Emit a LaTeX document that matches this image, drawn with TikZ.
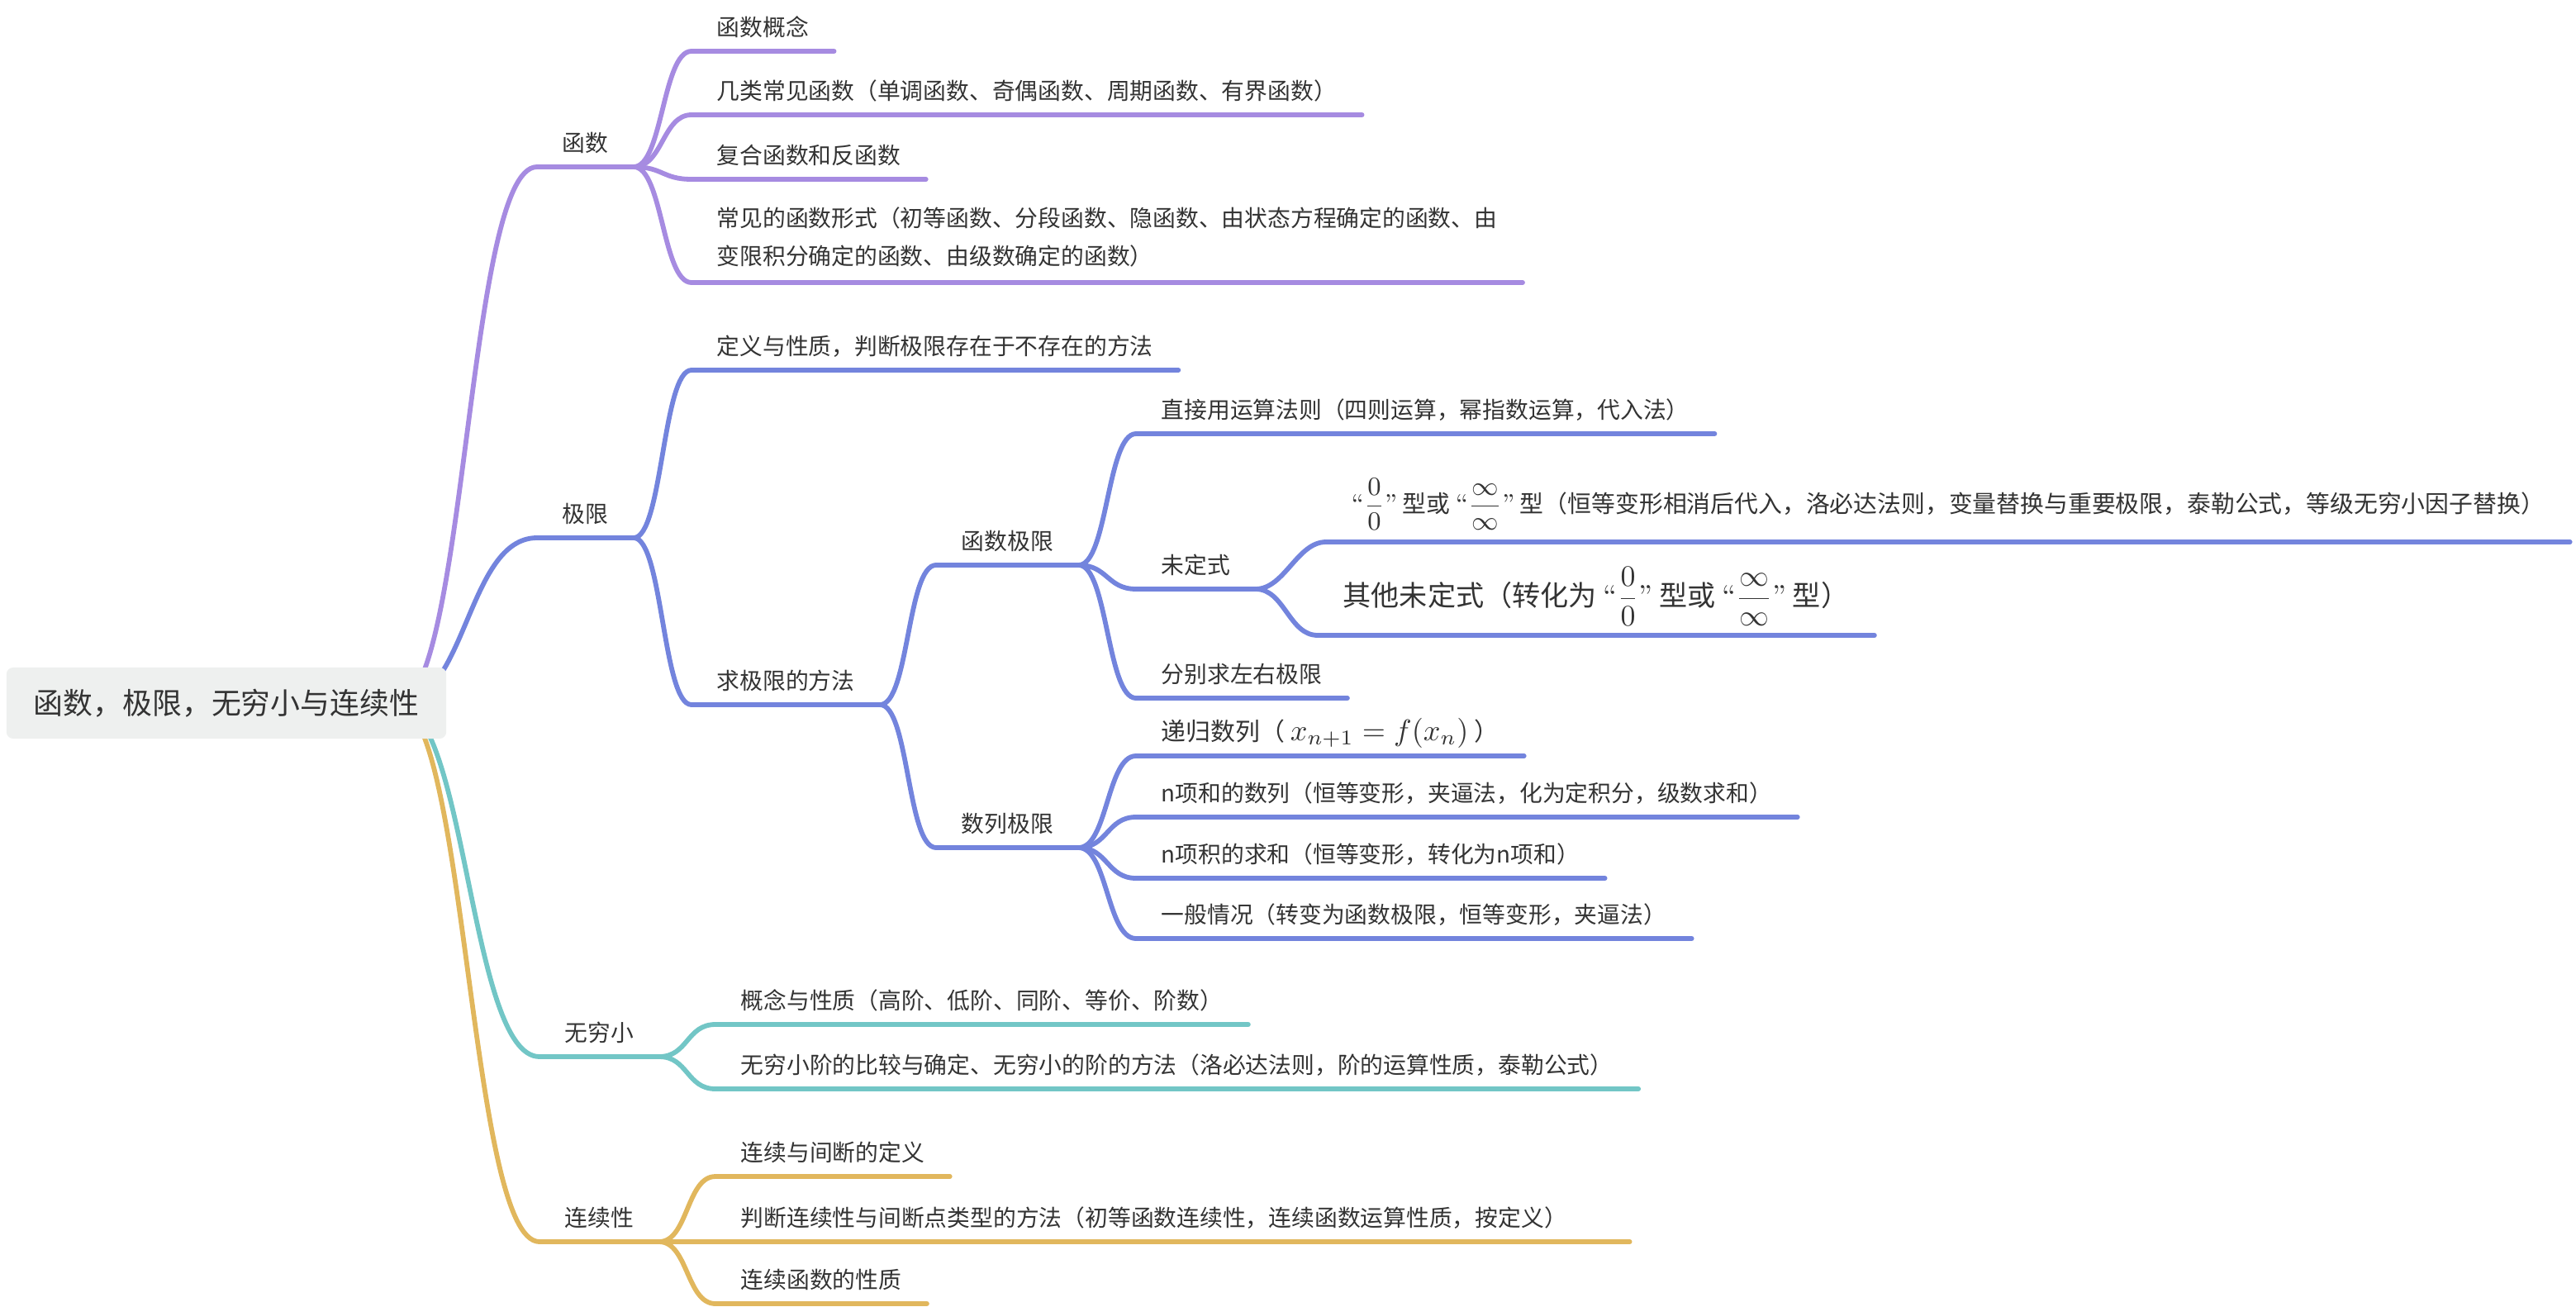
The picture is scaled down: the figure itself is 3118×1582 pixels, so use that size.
\RequirePackage{fix-cm}
\documentclass[tikz,border=0pt]{standalone}
\usepackage{fontspec}
\newfontfamily\cjk{Noto Sans CJK SC}

\definecolor{txt}{HTML}{333333}
\definecolor{rootbg}{HTML}{EEF0EF}
\definecolor{fnc}{HTML}{A68BE1}
\definecolor{limc}{HTML}{7384DD}
\definecolor{infc}{HTML}{72C6C6}
\definecolor{conc}{HTML}{E1B75D}

\begin{document}
\begin{tikzpicture}[x=0.01cm,y=-0.01cm,
    mmbox/.style={anchor=south west,inner xsep=0.3cm,inner ysep=0.18cm,
      text=txt,font=\cjk\fontsize{7.9}{13.1}\selectfont},
    topic/.style={mmbox,text depth=0pt},
    formula/.style={mmbox,text depth=0.17cm},
    bar/.style={line width=1.65pt,line cap=round}]
  \useasboundingbox (0,0) rectangle (3118,1582);
  \coordinate (hub) at (480,852);

  % main topics
  \node[topic] (fn) at (650,202) {函数};
  \node[topic] (lim) at (650,651) {极限};
  \node[topic] (inf) at (653,1279) {无穷小};
  \node[topic] (con) at (653,1503) {连续性};

  % functions
  \node[topic] (fn1) at (837,62) {函数概念};
  \node[topic] (fn2) at (837,139)
    {几类常见函数（单调函数、奇偶函数、周期函数、有界函数）};
  \node[topic] (fn3) at (837,217) {复合函数和反函数};
  \node[mmbox,align=left] (fn4) at (837,342)
    {常见的函数形式（初等函数、分段函数、隐函数、由状态方程确定的函数、由\\
     变限积分确定的函数、由级数确定的函数）};

  % limits
  \node[topic] (def) at (837,448) {定义与性质，判断极限存在于不存在的方法};
  \node[topic] (meth) at (837,853) {求极限的方法};
  \node[topic] (fl) at (1133,684) {函数极限};
  \node[topic] (sl) at (1133,1026) {数列极限};
  \node[topic] (fl1) at (1375,525) {直接用运算法则（四则运算，幂指数运算，代入法）};
  \node[topic] (wd) at (1375,713) {未定式};
  \node[topic] (fl3) at (1375,845) {分别求左右极限};
  \node[formula,font=\cjk\fontsize{8.2}{11}\selectfont] (wd1) at (1605,656)
    {{\rmfamily\fontsize{9}{11}\selectfont “$\displaystyle\frac{0}{0}$”} 型或
     {\rmfamily\fontsize{9}{11}\selectfont “$\displaystyle\frac{\infty}{\infty}$”}
     型（恒等变形相消后代入，洛必达法则，变量替换与重要极限，泰勒公式，等级无穷小因子替换）};
  \node[formula,font=\cjk\fontsize{9.7}{12}\selectfont] (wd2) at (1595,769)
    {其他未定式（转化为 {\rmfamily\fontsize{10.2}{12}\selectfont “$\displaystyle\frac{0}{0}$”} 型或
     {\rmfamily\fontsize{10.2}{12}\selectfont “$\displaystyle\frac{\infty}{\infty}$”} 型）};
  \node[topic,font=\cjk\fontsize{8.5}{11}\selectfont] (sl1) at (1375,915)
    {递归数列（ {\fontsize{10.3}{12}\selectfont$x_{n+1}=f(x_n)$} ）};
  \node[topic] (sl2) at (1375,989) {n项和的数列（恒等变形，夹逼法，化为定积分，级数求和）};
  \node[topic] (sl3) at (1375,1063) {n项积的求和（恒等变形，转化为n项和）};
  \node[topic] (sl4) at (1375,1136) {一般情况（转变为函数极限，恒等变形，夹逼法）};

  % infinitesimals
  \node[topic] (inf1) at (866,1240) {概念与性质（高阶、低阶、同阶、等价、阶数）};
  \node[topic] (inf2) at (866,1318)
    {无穷小阶的比较与确定、无穷小的阶的方法（洛必达法则，阶的运算性质，泰勒公式）};

  % continuity
  \node[topic] (con1) at (866,1424) {连续与间断的定义};
  \node[topic] (con2) at (866,1503)
    {判断连续性与间断点类型的方法（初等函数连续性，连续函数运算性质，按定义）\hspace*{0.45cm}};
  \node[topic] (con3) at (866,1578) {连续函数的性质};

  % underlines
  \foreach \n in {fn,fn1,fn2,fn3,fn4}
    \draw[bar,fnc] (\n.south west) -- (\n.south east);
  \foreach \n in {lim,def,meth,fl,sl,fl1,wd,fl3,wd1,wd2,sl1,sl2,sl3,sl4}
    \draw[bar,limc] (\n.south west) -- (\n.south east);
  \foreach \n in {inf,inf1,inf2}
    \draw[bar,infc] (\n.south west) -- (\n.south east);
  \foreach \n in {con,con1,con2,con3}
    \draw[bar,conc] (\n.south west) -- (\n.south east);

  % branches
  \draw[bar,fnc] (hub) .. controls +(85,0) and +(-85,0) .. (fn.south west);
  \draw[bar,limc] (hub) .. controls +(85,0) and +(-85,0) .. (lim.south west);
  \draw[bar,infc] (hub) .. controls +(85,0) and +(-85,0) .. (inf.south west);
  \draw[bar,conc] (hub) .. controls +(85,0) and +(-85,0) .. (con.south west);
  \foreach \a/\b in {fn/fn1,fn/fn2,fn/fn3,fn/fn4}
    \draw[bar,fnc] (\a.south east) .. controls +(35,0) and +(-35,0) .. (\b.south west);
  \foreach \a/\b in {lim/def,lim/meth,meth/fl,meth/sl,fl/fl1,fl/wd,fl/fl3,
    wd/wd1,wd/wd2,sl/sl1,sl/sl2,sl/sl3,sl/sl4}
    \draw[bar,limc] (\a.south east) .. controls +(35,0) and +(-35,0) .. (\b.south west);
  \foreach \a/\b in {inf/inf1,inf/inf2}
    \draw[bar,infc] (\a.south east) .. controls +(35,0) and +(-35,0) .. (\b.south west);
  \foreach \a/\b in {con/con1,con/con2,con/con3}
    \draw[bar,conc] (\a.south east) .. controls +(35,0) and +(-35,0) .. (\b.south west);

  % root
  \node[fill=rootbg,rounded corners=0.08cm,minimum width=5.32cm,minimum height=0.86cm,
    text=txt,font=\cjk\fontsize{10.2}{12}\selectfont] (root) at (274,851)
    {函数，极限，无穷小与连续性};
\end{tikzpicture}
\end{document}
